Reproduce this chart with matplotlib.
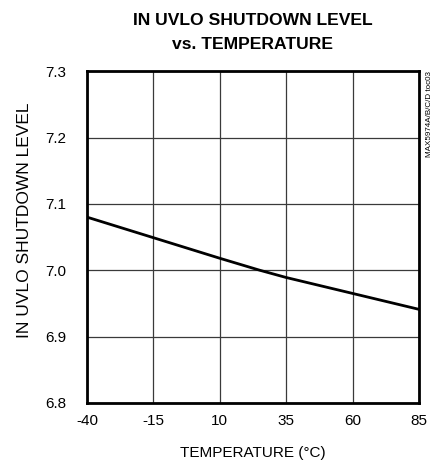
import matplotlib
matplotlib.use("Agg")
import matplotlib.pyplot as plt
from matplotlib import font_manager

temperature = [-40, -15, 10, 25, 35, 60, 85]
shutdown_level = [7.080, 7.049, 7.018, 7.000, 6.989, 6.965, 6.941]

x_ticks = [-40, -15, 10, 35, 60, 85]
y_ticks = [6.8, 6.9, 7.0, 7.1, 7.2, 7.3]

installed = {f.name for f in font_manager.fontManager.ttflist}
family = "Liberation Sans Narrow" if "Liberation Sans Narrow" in installed else "Liberation Sans"
plt.rcParams["font.family"] = [family, "DejaVu Sans"]

fig = plt.figure(figsize=(4.40, 4.63), dpi=100)
ax = fig.add_axes([0.198, 0.130, 0.754, 0.716])

ax.plot(temperature, shutdown_level, color="black", linewidth=2.0, zorder=3)

ax.set_xlim(-40, 85)
ax.set_ylim(6.8, 7.3)
ax.set_xticks(x_ticks)
ax.set_yticks(y_ticks)
ax.set_xticklabels([str(t) for t in x_ticks])
ax.set_yticklabels([f"{v:.1f}" for v in y_ticks])
ax.tick_params(length=0, labelsize=11, pad=8)
ax.tick_params(axis="y", pad=15)
ax.grid(True, color="#3a3a3a", linewidth=0.9)
for spine in ax.spines.values():
    spine.set_linewidth(2.0)
    spine.set_color("black")

ax.set_xlabel("TEMPERATURE (°C)", fontsize=11, labelpad=13)
ax.set_ylabel("IN UVLO SHUTDOWN LEVEL", fontsize=12.5, labelpad=12)
ax.yaxis.set_label_coords(-0.165, 0.551)

fig.text(0.575, 0.972, "IN UVLO SHUTDOWN LEVEL\nvs. TEMPERATURE", ha="center", va="top",
         fontsize=12.6, fontweight="bold", linespacing=1.75)
fig.text(0.977, 0.846, "MAX5974A/B/C/D toc03", rotation=90, ha="center", va="top", fontsize=5.8)

fig.savefig("out.png", dpi=100)
